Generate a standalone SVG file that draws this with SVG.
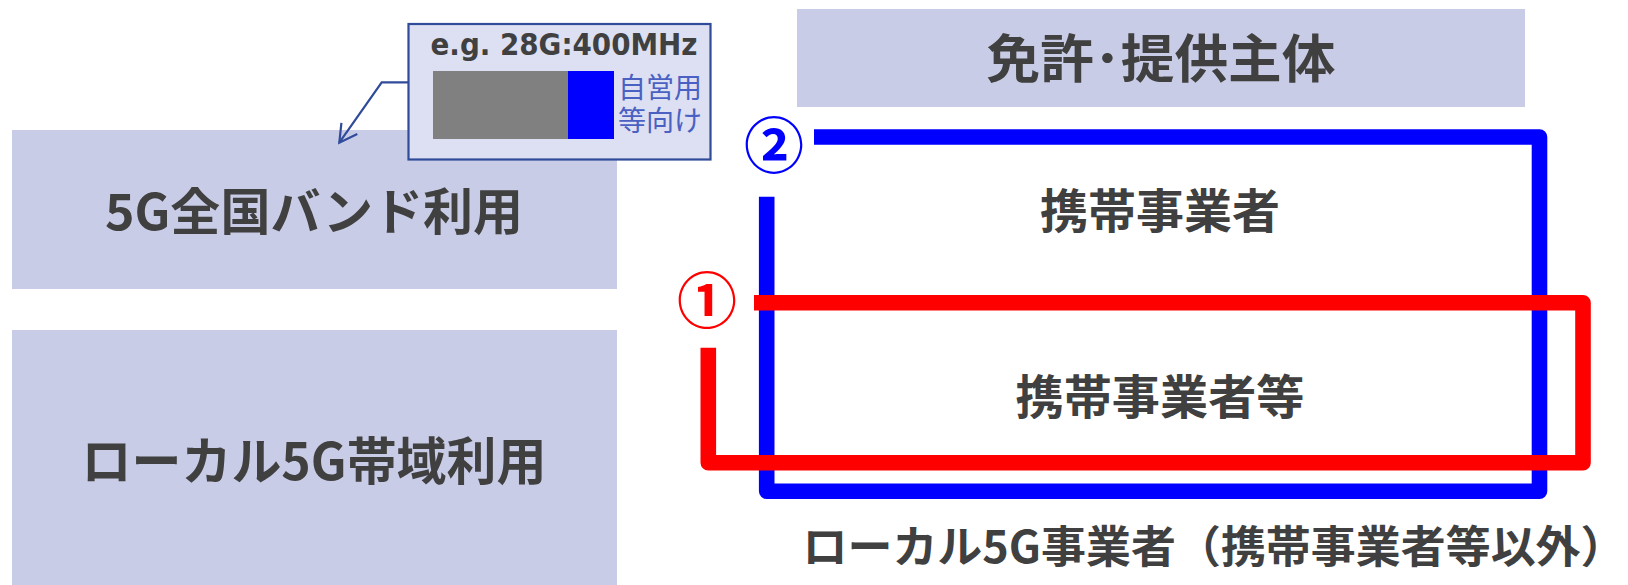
<svg xmlns="http://www.w3.org/2000/svg" width="1628" height="585" viewBox="0 0 1628 585">
<style>
.band{fill:#C8CCE6}
.jp{font-family:"Noto Sans CJK JP","Noto Sans CJK SC",sans-serif;font-weight:700;fill:#404040;text-anchor:middle}
.note{font-family:"Noto Sans CJK JP",sans-serif;font-weight:400;fill:#4A60C2;font-size:28px}
.num{font-family:"Noto Sans CJK JP",sans-serif;font-weight:700;text-anchor:middle;font-size:60px}
.frame{fill:none;stroke-width:15.6;stroke-linejoin:round;stroke-linecap:butt}
</style>
<defs>
<marker id="arrow" markerUnits="userSpaceOnUse" markerWidth="24" markerHeight="24" viewBox="-22 -12 24 24" refX="0" refY="0" orient="auto">
<path d="M -17.5 -9.7 L 0 0 L -17.5 9.7" fill="none" stroke="#2F4B9A" stroke-width="2.2"/>
</marker>
</defs>
<rect width="1628" height="585" fill="#FFFFFF"/>
<g id="national-band">
<rect class="band" x="12" y="130" width="605" height="159"/>
<text class="jp" x="314" y="229.5" font-size="50" textLength="418" lengthAdjust="spacingAndGlyphs">5G全国バンド利用</text>
</g>
<g id="local-band">
<rect class="band" x="12" y="330" width="605" height="255"/>
<text class="jp" x="314" y="479.5" font-size="51" textLength="465" lengthAdjust="spacingAndGlyphs">ローカル5G帯域利用</text>
</g>
<g id="header">
<rect class="band" x="797" y="9" width="728" height="98"/>
<text class="jp" x="1161" y="78" font-size="52" textLength="349" lengthAdjust="spacingAndGlyphs">免許･提供主体</text>
</g>
<g id="callout">
<rect x="408.5" y="24" width="302" height="135.5" fill="#DCE0F2" stroke="#2F4B9A" stroke-width="2.2"/>
<text x="697.5" y="55" font-family="'DejaVu Sans',sans-serif" font-weight="700" font-size="30" fill="#404040" text-anchor="end" textLength="267" lengthAdjust="spacingAndGlyphs">e.g. 28G:400MHz</text>
<rect x="433" y="71" width="135" height="68" fill="#808080"/>
<rect x="568" y="71" width="46" height="68" fill="#0000FF"/>
<text class="note" x="618" y="97.5">自営用<tspan x="618" dy="33">等向け</tspan></text>
</g>
<g id="connectors">
<path d="M 408 82.3 H 381.7 L 339.3 142.7" fill="none" stroke="#2F4B9A" stroke-width="2.2" marker-end="url(#arrow)"/>
</g>
<g id="carrier-frame">
<path class="frame" stroke="#0000FF" d="M 814 137 H 1539.5 V 491.3 H 766.7 V 196.7"/>
<text class="num" fill="#0000FF" x="774" y="168">②</text>
<text class="jp" x="1160" y="227.5" font-size="47" textLength="240" lengthAdjust="spacingAndGlyphs">携帯事業者</text>
</g>
<g id="carrier-etc-frame">
<path class="frame" stroke="#FF0000" d="M 754 302.8 H 1583 V 462.8 H 708.3 V 347.7"/>
<text class="num" fill="#FF0000" x="707" y="323">①</text>
<text class="jp" x="1160" y="413.5" font-size="47" textLength="289" lengthAdjust="spacingAndGlyphs">携帯事業者等</text>
</g>
<g id="local-operator">
<text class="jp" x="1214" y="562.5" font-size="44" textLength="823" lengthAdjust="spacingAndGlyphs">ローカル5G事業者（携帯事業者等以外）</text>
</g>
</svg>
